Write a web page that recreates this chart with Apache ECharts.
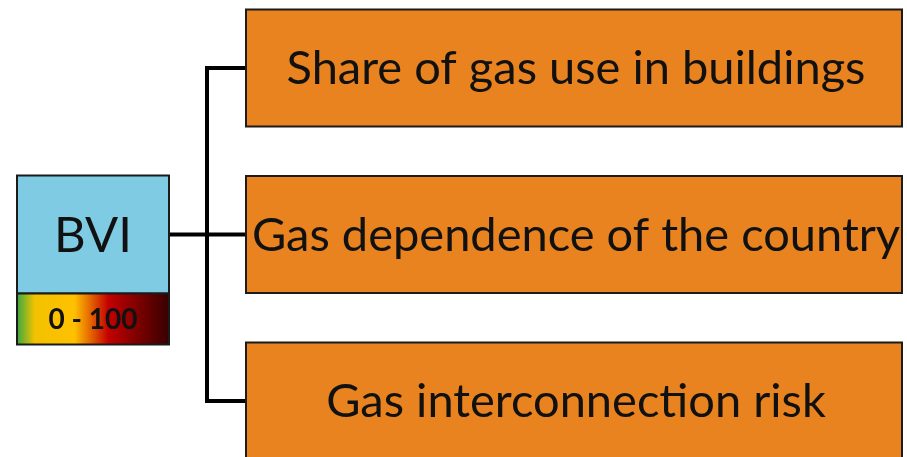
<!DOCTYPE html>
<html>
<head>
    <meta charset="UTF-8">
    <script src="https://cdn.jsdelivr.net/npm/echarts@6/dist/echarts.min.js"></script>
    <style>
        html, body { margin: 0; padding: 0; background: #fff; }
        #chart { width: 907px; height: 457px; }
    </style>
</head>
<body>
    <div id="chart"></div>
    <script>
        // index: column 0 = root, column 1 = indicators
        const rootLabel = 'BVI'
        const rootScale = '0 - 100'
        const factors = [
            'Share of gas use in buildings',
            'Gas dependence of the country',
            'Gas interconnection risk'
        ]

        const FONT = 'Lato, "Open Sans", sans-serif'
        const BORDER = '#1b1b1b'

        const nodes = [[0, 1, rootLabel, 'root']]
        factors.forEach((f, i) => nodes.push([1, i, f, 'factor']))

        const chart = echarts.init(document.getElementById('chart'))

        function renderItem(params, api) {
            const col = api.value(0)
            const row = api.value(1)
            const name = nodes[params.dataIndex][2]
            const kind = nodes[params.dataIndex][3]
            const [cx, cy] = api.coord([col, row])
            const children = []

            if (kind === 'factor') {
                const w = 656, h = 117
                const left = cx - w / 2
                // branch from trunk
                children.push({
                    type: 'line',
                    shape: { x1: left - 39, y1: cy, x2: left, y2: cy },
                    style: { stroke: '#000', lineWidth: 4 }
                })
                children.push({
                    type: 'rect',
                    shape: { x: left, y: cy - h / 2, width: w, height: h },
                    style: { fill: '#E8831F', stroke: BORDER, lineWidth: 2 }
                })
                children.push({
                    type: 'text',
                    style: {
                        text: name, x: cx + 2, y: cy + 1,
                        align: 'center', verticalAlign: 'middle',
                        font: '47px ' + FONT, fill: '#111'
                    }
                })
            } else {
                const w = 152, h = 118, gh = 51
                const left = cx - w / 2, top = cy - h / 2
                const trunkX = api.coord([1, 0])[0] - 656 / 2 - 39
                const yTop = api.coord([1, 0])[1]
                const yBot = api.coord([1, factors.length - 1])[1]
                children.push({
                    type: 'line',
                    shape: { x1: trunkX, y1: yTop - 2, x2: trunkX, y2: yBot + 2 },
                    style: { stroke: '#000', lineWidth: 4 }
                })
                children.push({
                    type: 'line',
                    shape: { x1: left + w, y1: cy, x2: trunkX, y2: cy },
                    style: { stroke: '#000', lineWidth: 4 }
                })
                children.push({
                    type: 'rect',
                    shape: { x: left, y: top, width: w, height: h },
                    style: { fill: '#7FCBE3', stroke: BORDER, lineWidth: 2 }
                })
                children.push({
                    type: 'rect',
                    shape: { x: left, y: top + h, width: w, height: gh },
                    style: {
                        fill: new echarts.graphic.LinearGradient(0, 0, 1, 0, [
                            { offset: 0, color: '#2EA844' },
                            { offset: 0.12, color: '#F2C200' },
                            { offset: 0.38, color: '#FFC000' },
                            { offset: 0.6, color: '#C40000' },
                            { offset: 0.8, color: '#7A0000' },
                            { offset: 1, color: '#350000' }
                        ]),
                        stroke: BORDER, lineWidth: 2
                    }
                })
                children.push({
                    type: 'text',
                    style: {
                        text: name, x: cx, y: cy + 2,
                        align: 'center', verticalAlign: 'middle',
                        font: '49px ' + FONT, fill: '#111'
                    }
                })
                children.push({
                    type: 'text',
                    style: {
                        text: rootScale, x: cx, y: top + h + gh / 2 + 1,
                        align: 'center', verticalAlign: 'middle',
                        font: 'bold 28px ' + FONT, fill: '#111'
                    }
                })
            }
            return { type: 'group', children: children }
        }

        chart.setOption({
            animation: false,
            grid: { left: 93, right: 333, top: 68, bottom: 56 },
            xAxis: { type: 'value', min: 0, max: 1, show: false },
            yAxis: { type: 'value', min: 0, max: 2, inverse: true, show: false },
            series: [{
                type: 'custom',
                renderItem: renderItem,
                clip: false,
                data: nodes.map(n => [n[0], n[1]])
            }]
        })
    </script>
</body>
</html>
